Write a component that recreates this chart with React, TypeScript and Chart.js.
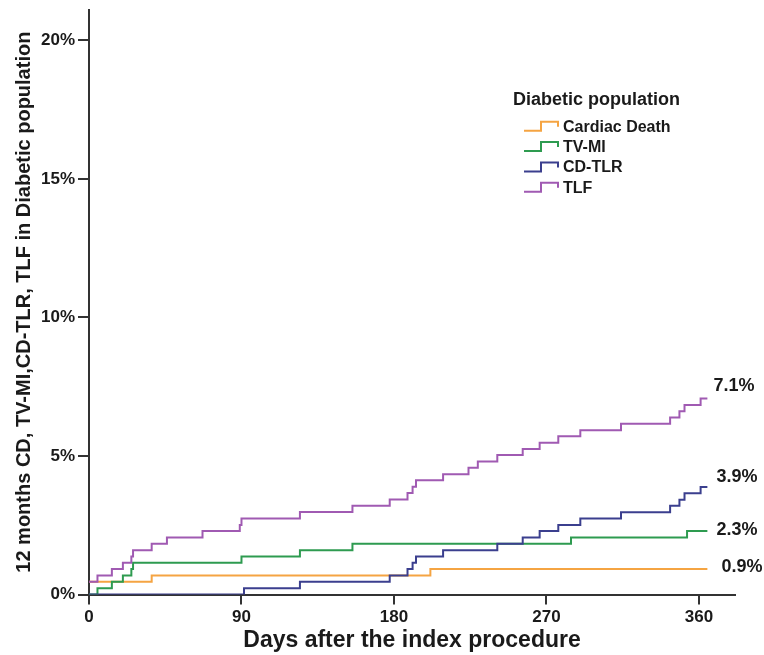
import React, { useEffect, useRef } from 'react';
import { Chart, registerables } from 'chart.js';

Chart.register(...registerables);

// ---- data ----
const seriesNames = ['Cardiac Death', 'TV-MI', 'CD-TLR', 'TLF'];
const seriesColors = ['#F5A442', '#2E9B50', '#3B3F8E', '#A05AB2'];
const endLabels = ['0.9%', '2.3%', '3.9%', '7.1%'];
const legendTitle = 'Diabetic population';

const cdDays = [0, 37, 201.5, 365];
const cdPct = [0.46, 0.69, 0.92, 0.92];

const tvmiDays = [0, 5, 13.5, 20, 25, 26, 90, 124.5, 155.5, 284.5, 353, 365];
const tvmiPct = [0, 0.23, 0.46, 0.69, 0.92, 1.15, 1.37, 1.6, 1.83, 2.06, 2.29, 2.29];

const tlrDays = [0, 91.5, 124.5, 177.5, 188, 191, 193, 209, 241, 256, 266, 277, 290, 314, 343, 348.5, 351.5, 361, 365];
const tlrPct = [0, 0.23, 0.46, 0.69, 0.92, 1.15, 1.37, 1.6, 1.83, 2.06, 2.29, 2.51, 2.74, 2.97, 3.2, 3.42, 3.65, 3.88, 3.88];

const tlfDays = [0, 5, 13.5, 20, 25, 26, 37, 46, 67, 89, 90, 124.5, 155.5, 177.5, 188, 191, 193, 209, 224, 229.5, 241, 256, 266, 277, 290, 314, 343, 348.5, 351.5, 361, 365];
const tlfPct = [0.46, 0.69, 0.92, 1.15, 1.37, 1.6, 1.83, 2.06, 2.29, 2.51, 2.74, 2.98, 3.2, 3.43, 3.66, 3.89, 4.12, 4.34, 4.57, 4.8, 5.03, 5.25, 5.48, 5.71, 5.93, 6.16, 6.39, 6.61, 6.84, 7.07, 7.07];

const xTicks = [0, 90, 180, 270, 360];
const yTicks = [0, 5, 10, 15, 20];
const xTitle = 'Days after the index procedure';
const yTitle = '12 months CD, TV-MI,CD-TLR, TLF in Diabetic population';

const seriesDays = [cdDays, tvmiDays, tlrDays, tlfDays];
const seriesPct = [cdPct, tvmiPct, tlrPct, tlfPct];

const FONT = 'Arial, "Liberation Sans", sans-serif';
const TEXT = '#1a1a1a';
const AXIS = '#333333';

// offsets of the end-of-curve labels (style only)
const endLabelOffsets = [
  { dx: 14, dy: -2 },
  { dx: 9, dy: -1 },
  { dx: 9, dy: -10 },
  { dx: 6, dy: -13 },
];

const legendPlugin = {
  id: 'kmLegend',
  afterDraw(chart: any) {
    const ctx = chart.ctx;
    ctx.save();
    ctx.fillStyle = TEXT;
    ctx.textBaseline = 'middle';
    ctx.textAlign = 'left';
    ctx.font = `bold 18px ${FONT}`;
    ctx.fillText(legendTitle, 513, 100);
    ctx.font = `bold 16px ${FONT}`;
    seriesNames.forEach((name, i) => {
      const cy = 127.3 + i * 20.3;
      ctx.strokeStyle = seriesColors[i];
      ctx.lineWidth = 2;
      ctx.beginPath();
      ctx.moveTo(524, cy + 3.5);
      ctx.lineTo(541, cy + 3.5);
      ctx.lineTo(541, cy - 5.5);
      ctx.lineTo(558, cy - 5.5);
      ctx.lineTo(558, cy - 0.5);
      ctx.stroke();
      ctx.fillStyle = TEXT;
      ctx.fillText(name, 563, cy);
    });
    ctx.restore();
  },
};

const endLabelPlugin = {
  id: 'endLabels',
  afterDatasetsDraw(chart: any) {
    const ctx = chart.ctx;
    ctx.save();
    ctx.fillStyle = TEXT;
    ctx.font = `bold 18px ${FONT}`;
    ctx.textBaseline = 'middle';
    ctx.textAlign = 'left';
    chart.data.datasets.forEach((ds: any, i: number) => {
      const meta = chart.getDatasetMeta(i);
      const pts = meta.data;
      const last = pts[pts.length - 1];
      const off = endLabelOffsets[i];
      ctx.fillText(endLabels[i], last.x + off.dx, last.y + off.dy);
    });
    ctx.restore();
  },
};

export default function App() {
  const ref = useRef<HTMLCanvasElement>(null);
  useEffect(() => {
    const canvas = ref.current;
    if (!canvas) return;
    const datasets = seriesNames.map((name, i) => ({
      label: name,
      data: seriesDays[i].map((d, j) => ({ x: d, y: seriesPct[i][j] })),
      borderColor: seriesColors[i],
      backgroundColor: seriesColors[i],
      borderWidth: 2,
      pointRadius: 0,
      stepped: 'before' as const,
      fill: false,
      order: 4 - i,
    }));
    const chart = new Chart(canvas, {
      type: 'line',
      data: { datasets },
      options: {
        animation: false,
        responsive: false,
        devicePixelRatio: 1,
        layout: { padding: { left: 0, right: 29, top: 8, bottom: 0 } },
        plugins: {
          legend: { display: false },
          tooltip: { enabled: false },
        },
        scales: {
          x: {
            type: 'linear',
            min: 0,
            max: 381.3,
            afterBuildTicks: (s: any) => {
              s.ticks = xTicks.map((v) => ({ value: v }));
            },
            afterFit: (s: any) => {
              s.height = 60.5;
            },
            ticks: {
              autoSkip: false,
              maxRotation: 0,
              padding: 3,
              color: TEXT,
              font: { family: FONT, size: 17, weight: 'bold' },
            },
            grid: {
              drawOnChartArea: false,
              drawTicks: true,
              tickLength: 10,
              color: AXIS,
              lineWidth: 2,
            },
            border: { display: true, color: AXIS, width: 2 },
            title: {
              display: true,
              text: xTitle,
              color: TEXT,
              font: { family: FONT, size: 23, weight: 'bold' },
              padding: { top: 0, bottom: 1 },
            },
          },
          y: {
            type: 'linear',
            min: 0,
            max: 21.1,
            afterBuildTicks: (s: any) => {
              s.ticks = yTicks.map((v) => ({ value: v }));
            },
            afterFit: (s: any) => {
              s.width = 89;
            },
            ticks: {
              padding: 3,
              color: TEXT,
              font: { family: FONT, size: 17, weight: 'bold', lineHeight: 0.8 },
              callback: (v: any) => `${v}%`,
            },
            grid: {
              drawOnChartArea: false,
              drawTicks: true,
              tickLength: 11,
              color: AXIS,
              lineWidth: 2,
            },
            border: { display: true, color: AXIS, width: 2 },
            title: {
              display: true,
              text: yTitle,
              color: TEXT,
              font: { family: FONT, size: 20, weight: 'bold' },
              padding: { top: 12, bottom: 0 },
            },
          },
        },
      },
      plugins: [legendPlugin, endLabelPlugin],
    });
    return () => chart.destroy();
  }, []);
  return (
    <div style={{ position: 'absolute', left: 0, top: 0, width: 764, height: 655, background: '#fff' }}>
      <canvas ref={ref} width={764} height={655} style={{ display: 'block' }} />
    </div>
  );
}
